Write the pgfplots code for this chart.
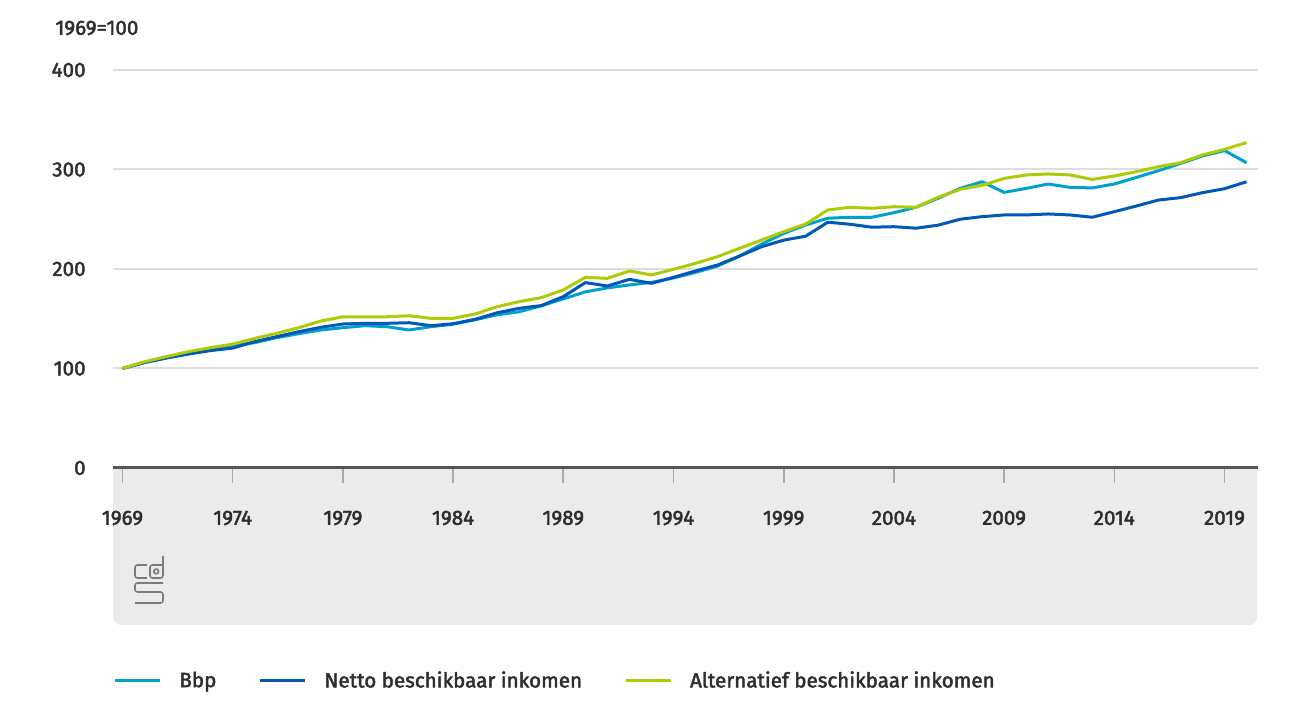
\documentclass[border=0pt]{standalone}
\usepackage{pgfplots}
\pgfplotsset{compat=1.18}
\usepackage{pgfplotstable}
\usepackage{fontspec}
\setmainfont{Fira Sans}[FakeBold=2.2]

\definecolor{bbp}{HTML}{00A1CD}
\definecolor{netto}{HTML}{0058B8}
\definecolor{alt}{HTML}{AFCB05}
\definecolor{txt}{HTML}{2E2E2E}
\definecolor{panel}{HTML}{EBEBEB}
\definecolor{gridc}{HTML}{DDDDDD}
\definecolor{axisc}{HTML}{555555}
\definecolor{tickc}{HTML}{AAAAAA}
\definecolor{logo}{HTML}{7C7C7C}

% index 1969=100
\pgfplotstableread{
jaar bbp netto alt
1969 100 100 100
1970 106 106 106.8
1971 111 110.5 112
1972 115.5 114.5 117
1973 119.5 118 121
1974 123 120.5 124.5
1975 126 127 130.3
1976 131 132 135.4
1977 135 137 141
1978 138.7 141.4 147.7
1979 141 144.7 152
1980 143 145.4 152
1981 142 145.4 152
1982 138.7 146 153
1983 142 143 150.4
1984 144.5 145 150.4
1985 149 149.4 154.8
1986 154 156 162.1
1987 157 160.5 167.2
1988 163 163.2 171.2
1989 170 172.2 178.9
1990 177 186.3 191.6
1991 181 182.9 190.6
1992 184 189.6 198
1993 186.5 185.6 194
1994 191 191.6 199.7
1995 196.6 198 205.7
1996 203 204 212.4
1997 213 213 220.8
1998 225 222.4 229.1
1999 235.8 229 237.5
2000 244.2 233 245.2
2001 251 247 259.3
2002 252 245 262
2003 252 242 261
2004 256.6 242.5 262.6
2005 262 241 262
2006 271 244 272
2007 281 250 280
2008 287.7 252.6 284
2009 277 254.3 291
2010 281 254.3 294.5
2011 285.4 255.3 295.5
2012 282 254.3 294.5
2013 281.5 252 290
2014 285.4 257.6 293.5
2015 292 263.3 297.8
2016 298.8 269.3 302.8
2017 306 271.7 306.8
2018 313.6 276.7 314.6
2019 319 280.7 320.3
2020 306.8 287.7 327
}\inkomen

\begin{document}
\begin{tikzpicture}
% grey panel under the x axis
\fill[panel] (0,0) {[rounded corners=4pt] -- (0,-78.5pt) -- (572pt,-78.5pt)} -- (572pt,0) -- cycle;
% cbs logo, rough
\begin{scope}[draw=logo, double=panel, double distance=1pt, line width=0.8pt, rounded corners=1.2pt]
  \draw (17pt,-48.5pt) -- (11pt,-48.5pt) -- (11pt,-55pt) -- (17pt,-55pt);
  \draw (25pt,-44pt) -- (25pt,-55pt) -- (18.5pt,-55pt) -- (18.5pt,-48.5pt) -- (25pt,-48.5pt);
  \draw (21.6pt,-51.7pt) circle (1.2pt);
  \draw (25pt,-57.5pt) -- (11pt,-57.5pt) -- (11pt,-62pt) -- (25pt,-62pt) -- (25pt,-67.5pt) -- (11pt,-67.5pt);
\end{scope}

\begin{axis}[
  at={(0,0)}, anchor=south west,
  scale only axis,
  width=572.5pt, height=199pt,
  xmin=1968.57, xmax=2020.52,
  ymin=0, ymax=400,
  axis x line*=bottom, axis y line*=left,
  y axis line style={draw=none},
  x axis line style={draw=axisc, line width=1.5pt},
  xtick={1969,1974,...,2019},
  ytick={0,100,200,300,400},
  xtick align=outside,
  major tick length=7.5pt,
  xtick style={draw=tickc, line width=0.8pt},
  ytick style={draw=none},
  ymajorgrids,
  grid style={draw=gridc, line width=1pt},
  every tick label/.append style={inner sep=0pt, text=txt, font=\fontsize{10.3}{12}\selectfont},
  /pgf/number format/assume math mode=true,
  x tick label style={/pgf/number format/1000 sep={}, anchor=center, yshift=-17.5pt},
  y tick label style={anchor=east, xshift=-13.5pt},
  legend style={at={(0,-0.535)}, anchor=west, draw=none, fill=none, inner sep=0pt,
    nodes={inner sep=0pt},
    legend columns=3, font=\fontsize{10.3}{12}\selectfont, text=txt,
    /tikz/every even column/.append style={column sep=21pt},
    /tikz/every odd column/.append style={column sep=9pt}},
  legend image code/.code={\draw[#1] (0pt,0pt) -- (22.5pt,0pt);},
]
\addplot[bbp, line width=1.5pt, line join=round] table[x=jaar, y=bbp] {\inkomen};
\addlegendentry{Bbp}
\addplot[netto, line width=1.5pt, line join=round] table[x=jaar, y=netto] {\inkomen};
\addlegendentry{Netto beschikbaar inkomen}
\addplot[alt, line width=1.5pt, line join=round] table[x=jaar, y=alt] {\inkomen};
\addlegendentry{Alternatief beschikbaar inkomen}
\end{axis}

\node[anchor=west, inner sep=0pt, text=txt, font=\fontsize{10.3}{12}\selectfont] at (-29pt,220pt) {1969=100};

\pgfresetboundingbox
\useasboundingbox (-56.5pt,-123.5pt) rectangle (593pt,234pt);
\end{tikzpicture}
\end{document}
